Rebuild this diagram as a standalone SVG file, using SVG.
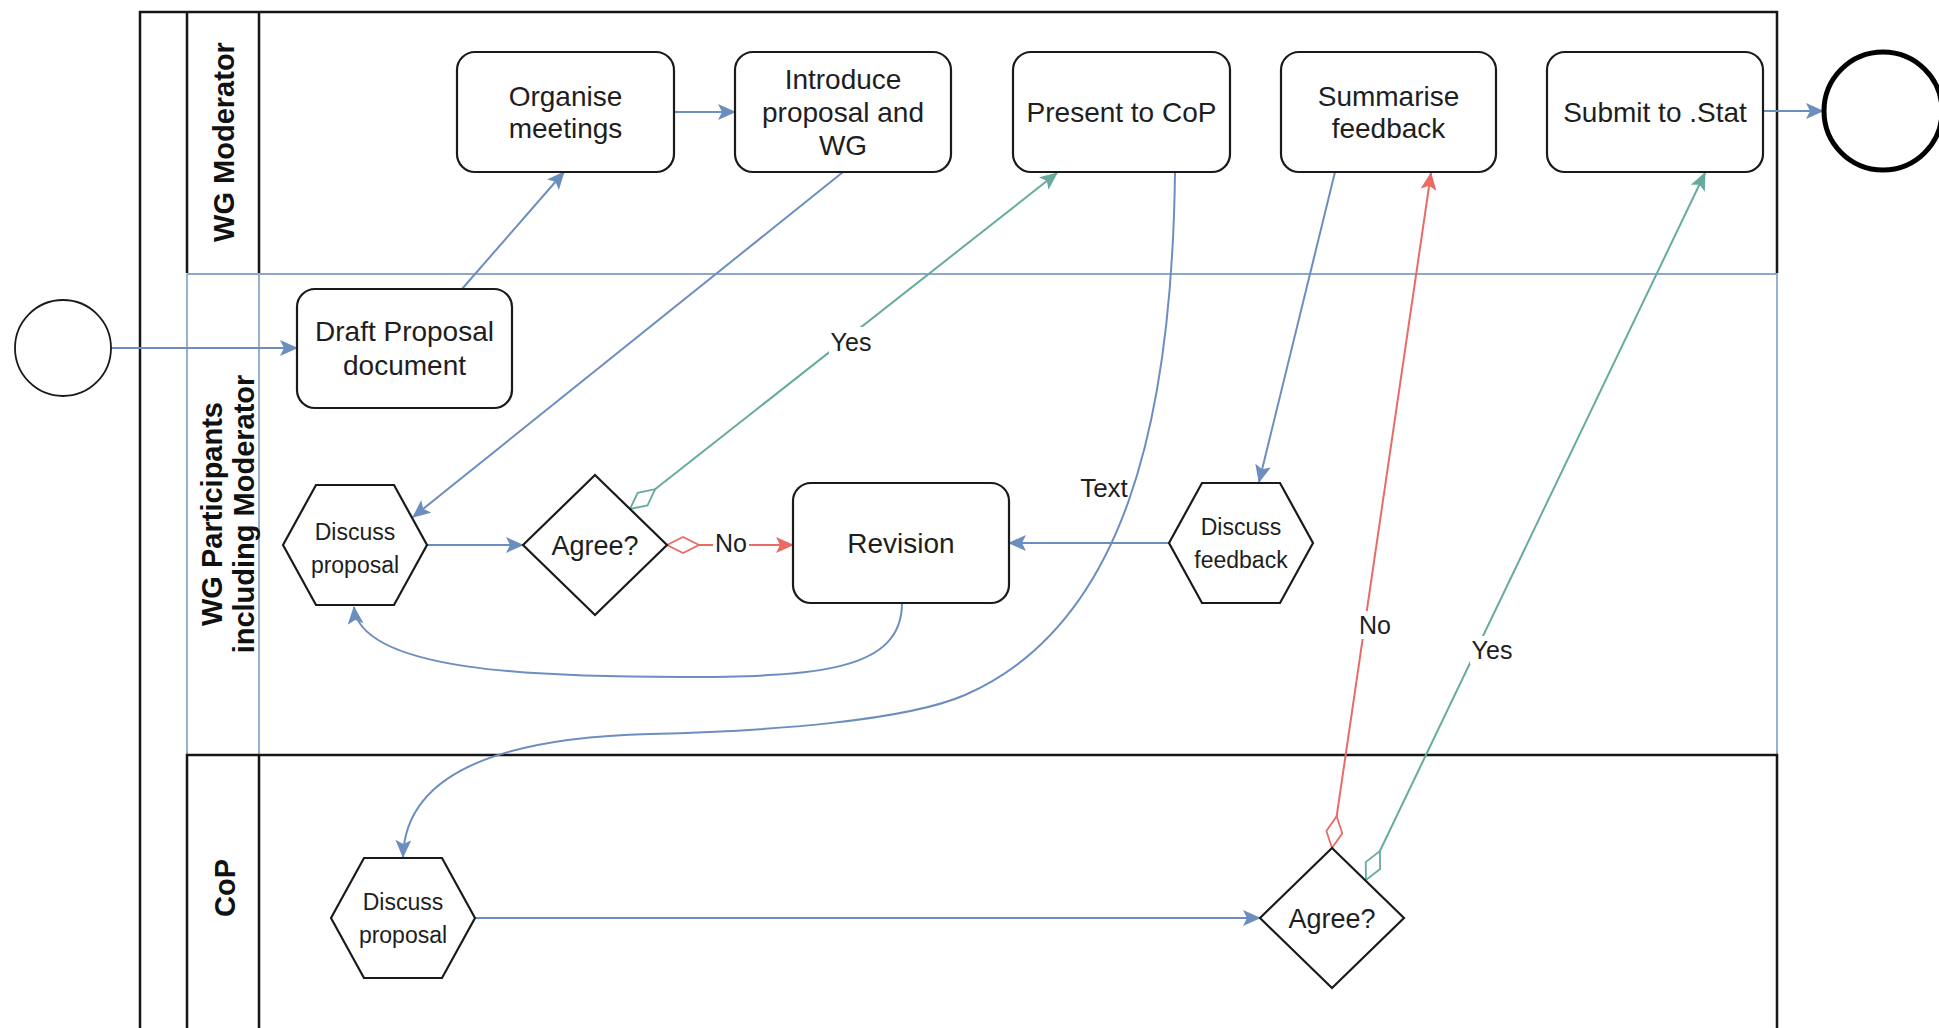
<svg xmlns="http://www.w3.org/2000/svg" width="1939" height="1028" viewBox="0 0 1939 1028">
<style>
.t{font-family:"Liberation Sans",Arial,sans-serif;font-size:28px;fill:#1e1e1e;text-anchor:middle}
.ts{font-size:23px}
.ta{font-size:27px}
.lbl{font-size:25px}
.lt{font-family:"Liberation Sans",Arial,sans-serif;font-size:29px;font-weight:bold;fill:#111;text-anchor:middle}
.node{fill:#fff;stroke:#1a1a1a;stroke-width:2.2}
.lane{fill:none;stroke:#161616;stroke-width:2.5}
.sel{fill:none;stroke:#8ea8cc;stroke-width:1.8}
.c{fill:none;stroke:#6c8ebf;stroke-width:2}
.cg{fill:none;stroke:#67ab9f;stroke-width:2}
.cr{fill:none;stroke:#ea6b66;stroke-width:2}
.bg{fill:#fff}
</style>
<defs>
<marker id="ab" markerUnits="userSpaceOnUse" markerWidth="18" markerHeight="16" viewBox="0 0 18 16" refX="17" refY="8" orient="auto"><path d="M0,0 L18,8 L0,16 L4,8 Z" fill="#6c8ebf"/></marker>
<marker id="ag" markerUnits="userSpaceOnUse" markerWidth="18" markerHeight="16" viewBox="0 0 18 16" refX="17" refY="8" orient="auto"><path d="M0,0 L18,8 L0,16 L4,8 Z" fill="#67ab9f"/></marker>
<marker id="ar" markerUnits="userSpaceOnUse" markerWidth="18" markerHeight="16" viewBox="0 0 18 16" refX="17" refY="8" orient="auto"><path d="M0,0 L18,8 L0,16 L4,8 Z" fill="#ea6b66"/></marker>
<marker id="dg" markerUnits="userSpaceOnUse" markerWidth="36" markerHeight="20" viewBox="-2 -2 36 20" refX="0" refY="8" orient="auto"><path d="M0,8 L16,0 L32,8 L16,16 Z" fill="#fff" stroke="#67ab9f" stroke-width="1.8"/></marker>
<marker id="dr" markerUnits="userSpaceOnUse" markerWidth="36" markerHeight="20" viewBox="-2 -2 36 20" refX="0" refY="8" orient="auto"><path d="M0,8 L16,0 L32,8 L16,16 Z" fill="#fff" stroke="#ea6b66" stroke-width="1.8"/></marker>
</defs>
<rect width="1939" height="1028" fill="#fff"/>

<g id="pool">
<path class="lane" d="M140,1030 V12 H1777 V273"/>
<g id="lane-moderator">
<path class="lane" d="M187,273 V12 M259,12 V273"/>
<text class="lt" transform="rotate(-90)" x="-142" y="234">WG Moderator</text>
</g>
<g id="lane-participants">
<path class="sel" d="M187,274 H1777 V754 M187,274 V754 M259,274 V754"/>
<text class="lt" transform="rotate(-90)" x="-514" y="222">WG Participants</text>
<text class="lt" transform="rotate(-90)" x="-514" y="254">including Moderator</text>
</g>
<g id="lane-cop">
<path class="lane" d="M187,1030 V755 H1777 V1030 M259,755 V1030"/>
<text class="lt" transform="rotate(-90)" x="-888" y="235">CoP</text>
</g>
</g>

<g id="connectors">
<path class="c" d="M111,348 H297" marker-end="url(#ab)"/>
<path class="c" d="M462,289 L564,172" marker-end="url(#ab)"/>
<path class="c" d="M674,112 H735" marker-end="url(#ab)"/>
<path class="c" d="M843,172 L413,517" marker-end="url(#ab)"/>
<path class="c" d="M427,545 H523" marker-end="url(#ab)"/>
<path class="cg" d="M630,509 L1057,173" marker-start="url(#dg)" marker-end="url(#ag)"/>
<path class="cr" d="M667,545 H793" marker-start="url(#dr)" marker-end="url(#ar)"/>
<path class="c" d="M902,603 C902,670 820,677 680,677 C540,677 360,672 354,607" marker-end="url(#ab)"/>
<path class="c" d="M1175,172 C1172,420 1125,625 965,695 C905,721 770,731 650,734 C490,738 405,778 403,857" marker-end="url(#ab)"/>
<path class="c" d="M1335,172 L1259,482" marker-end="url(#ab)"/>
<path class="c" d="M1169,543 H1009" marker-end="url(#ab)"/>
<path class="c" d="M475,918 H1260" marker-end="url(#ab)"/>
<path class="cr" d="M1332,848 L1431,173" marker-start="url(#dr)" marker-end="url(#ar)"/>
<path class="cg" d="M1366,880 L1705,173" marker-start="url(#dg)" marker-end="url(#ag)"/>
<path class="c" d="M1763,111 H1823" marker-end="url(#ab)"/>
<rect class="bg" x="829" y="327" width="44" height="30"/>
<text class="t lbl" x="851" y="351">Yes</text>
<rect class="bg" x="713" y="530" width="36" height="28"/>
<text class="t lbl" x="731" y="552">No</text>
<rect class="bg" x="1357" y="611" width="36" height="28"/>
<text class="t lbl" x="1375" y="634">No</text>
<rect class="bg" x="1470" y="636" width="44" height="28"/>
<text class="t lbl" x="1492" y="659">Yes</text>
</g>

<g id="start"><circle class="node" cx="63" cy="348" r="48" style="stroke-width:1.8"/></g>
<g id="end"><circle class="node" cx="1883" cy="111" r="59" style="stroke-width:5;stroke:#000"/></g>

<g id="organise"><rect class="node" x="457" y="52" width="217" height="120" rx="18"/><text class="t" x="565.5" y="106">Organise</text><text class="t" x="565.5" y="138">meetings</text></g>
<g id="introduce"><rect class="node" x="735" y="52" width="216" height="120" rx="18"/><text class="t" x="843" y="89">Introduce</text><text class="t" x="843" y="122">proposal and</text><text class="t" x="843" y="155">WG</text></g>
<g id="present"><rect class="node" x="1013" y="52" width="217" height="120" rx="18"/><text class="t" x="1121.5" y="122">Present to CoP</text></g>
<g id="summarise"><rect class="node" x="1281" y="52" width="215" height="120" rx="18"/><text class="t" x="1388.5" y="106">Summarise</text><text class="t" x="1388.5" y="138">feedback</text></g>
<g id="submit"><rect class="node" x="1547" y="52" width="216" height="120" rx="18"/><text class="t" x="1655" y="122">Submit to .Stat</text></g>
<g id="draft"><rect class="node" x="297" y="289" width="215" height="119" rx="18"/><text class="t" x="404.5" y="341">Draft Proposal</text><text class="t" x="404.5" y="375">document</text></g>
<g id="revision"><rect class="node" x="793" y="483" width="216" height="120" rx="18"/><text class="t" x="901" y="553">Revision</text></g>

<g id="discuss-proposal-wg"><polygon class="node" points="283,545 316,485 394,485 427,545 394,605 316,605"/><text class="t ts" x="355" y="540">Discuss</text><text class="t ts" x="355" y="573">proposal</text></g>
<g id="agree-wg"><polygon class="node" points="523,545 595,475 667,545 595,615"/><text class="t ta" x="595" y="555">Agree?</text></g>
<g id="discuss-feedback"><polygon class="node" points="1169,543 1202,483 1280,483 1313,543 1280,603 1202,603"/><text class="t ts" x="1241" y="535">Discuss</text><text class="t ts" x="1241" y="568">feedback</text></g>
<g id="discuss-proposal-cop"><polygon class="node" points="331,918 364,858 442,858 475,918 442,978 364,978"/><text class="t ts" x="403" y="910">Discuss</text><text class="t ts" x="403" y="943">proposal</text></g>
<g id="agree-cop"><polygon class="node" points="1260,918 1332,848 1404,918 1332,988"/><text class="t ta" x="1332" y="928">Agree?</text></g>
<g id="text-note"><text class="t" style="font-size:26px" x="1104" y="497">Text</text></g>
</svg>
